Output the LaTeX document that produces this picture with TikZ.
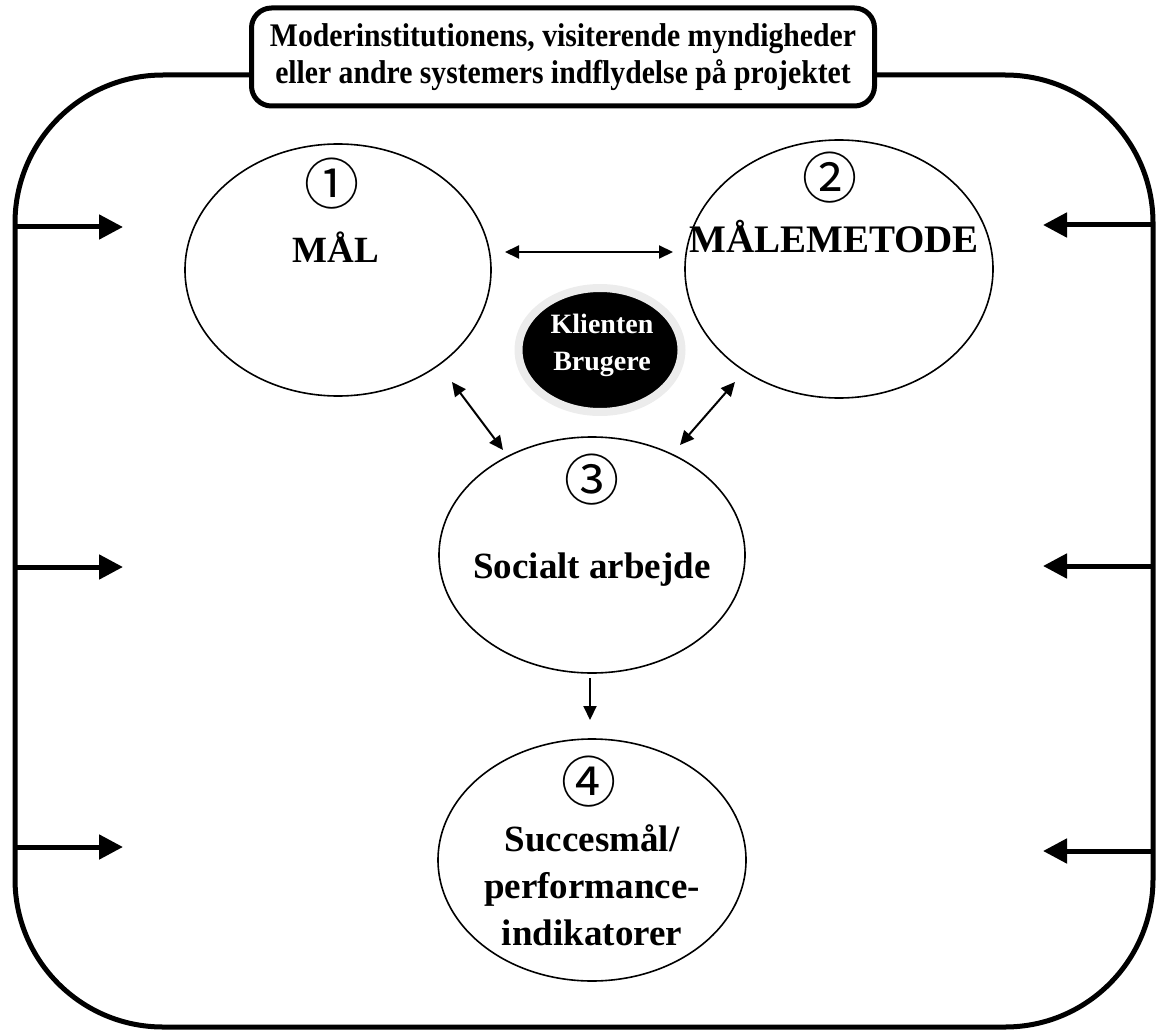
\documentclass[tikz,border=0pt]{standalone}
\usepackage{fontspec}
\setmainfont{Liberation Serif}
\newfontfamily\numfont{Noto Sans CJK JP}
\usetikzlibrary{shapes.geometric,arrows.meta,shadows}

\begin{document}
\begin{tikzpicture}[x=1pt,y=-1pt,
  bubble/.style={ellipse, draw, line width=1.6pt, inner sep=0pt, outer sep=0pt},
  lbl/.style={font=\bfseries\fontsize{37}{47}\selectfont, align=center, inner sep=0pt},
  num/.style={font=\numfont\fontsize{55}{55}\selectfont, inner sep=0pt},
  inflow/.style={line width=5pt, -{Triangle[length=24pt,width=24pt]}},
  link/.style={line width=2pt, {Triangle[length=14pt,width=13pt]}-{Triangle[length=14pt,width=13pt]}},
  onelink/.style={line width=2pt, -{Triangle[length=14pt,width=13pt]}},
]
\useasboundingbox (0,0) rectangle (1158,1032);

% outer frame of the project
\node[draw, line width=5pt, rounded corners=148pt, minimum width=1138pt,
      minimum height=952pt, inner sep=0pt, outer sep=0pt] (frame) at (584,551) {};

% heading box on top of the frame
\node[draw, line width=5pt, rounded corners=20pt, fill=white, minimum width=623pt,
      minimum height=98pt, align=center, inner sep=0pt,
      font=\bfseries\fontsize{33}{37}\selectfont] (title) at (563,57)
  {\scalebox{0.9}[1]{Moderinstitutionens, visiterende myndigheder}\\
   \scalebox{0.9}[1]{eller andre systemers indflydelse på projektet}};

% the four ellipses
\node[bubble, minimum width=306pt, minimum height=252pt] (goal) at (338,270) {};
\node[bubble, minimum width=308pt, minimum height=258pt] (method) at (839,269) {};
\node[bubble, minimum width=306pt, minimum height=236pt] (work) at (592,555) {};
\node[bubble, minimum width=308pt, minimum height=242pt] (success) at (592,860) {};

% numbering
\node[num] (n1) at (332,184) {①};
\node[num] (n2) at (830,178) {②};
\node[num] (n3) at (592,480) {③};
\node[num] (n4) at (589,782) {④};

% labels
\node[lbl, anchor=base] (goalT) at (336,262) {MÅL};
\node[lbl, anchor=base, font=\bfseries\fontsize{39}{46}\selectfont] (methodT) at (834,252) {MÅLEMETODE};
\node[lbl, anchor=base] (workT) at (592,578) {Socialt arbejde};
\node[lbl] (successT) at (592,885) {Succesmål/\\performance-\\indikatorer};

% client disc
\node[ellipse, fill=black, draw=gray!15, line width=8pt, minimum width=163pt,
      minimum height=124pt, inner sep=0pt,
      drop shadow={shadow xshift=2pt, shadow yshift=-3pt, fill=gray!45}] (client) at (600,350) {};
\node[lbl, text=white, font=\bfseries\fontsize{28}{37}\selectfont] (clientT) at (602,345) {Klienten\\Brugere};

% connectors between the ellipses
\coordinate (a1) at (505,252); \coordinate (a2) at (673,252);
\coordinate (b1) at (452,382); \coordinate (b2) at (503,450);
\coordinate (c1) at (735,382); \coordinate (c2) at (680,445);
\coordinate (d1) at (590,678); \coordinate (d2) at (590,720);
\draw[link] (a1) -- (a2);
\draw[link] (b1) -- (b2);
\draw[link] (c1) -- (c2);
\draw[onelink] (d1) -- (d2);

% outside influence arrows
\coordinate (l1) at (15,227);  \coordinate (l1t) at (123,227);
\coordinate (l2) at (15,567);  \coordinate (l2t) at (123,567);
\coordinate (l3) at (15,847);  \coordinate (l3t) at (123,847);
\coordinate (r1) at (1153,225); \coordinate (r1t) at (1043,225);
\coordinate (r2) at (1153,566); \coordinate (r2t) at (1043,566);
\coordinate (r3) at (1153,851); \coordinate (r3t) at (1043,851);
\foreach \s/\t in {l1/l1t, l2/l2t, l3/l3t, r1/r1t, r2/r2t, r3/r3t}
  \draw[inflow] (\s) -- (\t);
\end{tikzpicture}
\end{document}
